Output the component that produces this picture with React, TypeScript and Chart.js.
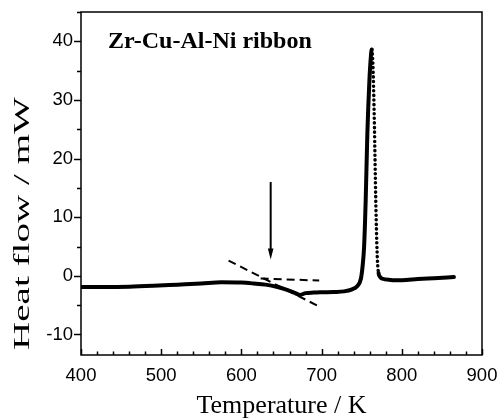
import React, { useEffect, useRef } from "react";
import { Chart, registerables } from "chart.js";

Chart.register(...registerables);

// ---- data ----
const temperatureK = [
  400, 430, 460, 490, 520, 550, 575, 600, 615, 630, 645, 655, 665, 673, 680, 690,
  700, 715, 728, 738, 744, 749, 751, 753, 755, 757, 759.5, 761.5, 762.5, 764, 765.5, 767,
  768, 769.5, 771, 773, 776, 786, 800, 820, 840, 865,
];
const heatFlowMW = [
  -1.9, -1.9, -1.85, -1.7, -1.5, -1.3, -1.1, -1.15, -1.3, -1.5, -1.9, -2.3, -2.8, -3.25, -2.95, -2.85,
  -2.8, -2.75, -2.65, -2.3, -1.8, -0.5, 1.5, 5, 13, 24, 33, 37.5, 38.6, 36, 28, 17,
  10, 3, 0.5, -0.2, -0.5, -0.7, -0.75, -0.55, -0.4, -0.2,
];
const tangentSlopeT = [584, 695];
const tangentSlopeH = [2.6, -5.1];
const tangentFlatT = [624, 697];
const tangentFlatH = [-0.45, -0.8];
const arrowT = 636.5;
const arrowFromH = 16;
const arrowToH = 2.8;

const xTickValues = [400, 500, 600, 700, 800, 900];
const yTickValues = [-10, 0, 10, 20, 30, 40];
const xMin = 400;
const xMax = 900;
const yMin = -13.5;
const yMax = 45;

const sampleLabel = "Zr-Cu-Al-Ni ribbon";
const xTitle = "Temperature / K";
const yTitle = "Heat flow / mW";

const toPoints = (xs: number[], ys: number[]) => xs.map((v, i) => ({ x: v, y: ys[i] }));

const isFallingPeak = (c: any) => c.p0.parsed.x >= 762 && c.p1.parsed.y < c.p0.parsed.y - 1;

const decorPlugin = {
  id: "decor",
  afterDraw(chart: any) {
    const { ctx, chartArea, scales } = chart;
    const { left, right, top, bottom } = chartArea;
    const xs = scales.x;
    const ys = scales.y;
    ctx.save();
    ctx.strokeStyle = "#000";
    ctx.fillStyle = "#000";
    ctx.lineWidth = 1.5;
    ctx.strokeRect(left, top, right - left, bottom - top);

    // y ticks (outward)
    for (let v = -10; v <= 45; v += 5) {
      const py = Math.round(ys.getPixelForValue(v)) + 0.5;
      const len = v % 10 === 0 ? 7 : 4;
      ctx.beginPath();
      ctx.moveTo(left - len, py);
      ctx.lineTo(left, py);
      ctx.stroke();
    }
    // x ticks (inward)
    for (let v = 400; v <= 900; v += 20) {
      const px = Math.round(xs.getPixelForValue(v)) + 0.5;
      const len = v % 100 === 0 ? 6 : 3.5;
      ctx.beginPath();
      ctx.moveTo(px, bottom);
      ctx.lineTo(px, bottom - len);
      ctx.stroke();
    }

    // arrow
    const ax = xs.getPixelForValue(arrowT);
    const ay1 = ys.getPixelForValue(arrowFromH);
    const ay2 = ys.getPixelForValue(arrowToH);
    ctx.lineWidth = 2;
    ctx.beginPath();
    ctx.moveTo(ax, ay1);
    ctx.lineTo(ax, ay2 - 9);
    ctx.stroke();
    ctx.beginPath();
    ctx.moveTo(ax, ay2);
    ctx.lineTo(ax - 2.8, ay2 - 11);
    ctx.lineTo(ax + 2.8, ay2 - 11);
    ctx.closePath();
    ctx.fill();

    // sample label
    ctx.font = 'bold 24px "Liberation Serif", "Times New Roman", serif';
    ctx.textAlign = "left";
    ctx.textBaseline = "alphabetic";
    ctx.fillText(sampleLabel, 108, 48);

    // x title
    ctx.font = '26px "Liberation Serif", "Times New Roman", serif';
    ctx.textAlign = "center";
    ctx.fillText(xTitle, (left + right) / 2, 413);

    // y title (stretched along its length as in the reference)
    ctx.font = '24px "Liberation Serif", "Times New Roman", serif';
    const w = ctx.measureText(yTitle).width;
    const sx = 253 / w;
    ctx.translate(29, 223.5);
    ctx.rotate(-Math.PI / 2);
    ctx.scale(sx, 1);
    ctx.textAlign = "center";
    ctx.fillText(yTitle, 0, 0);
    ctx.restore();
  },
};

export default function App() {
  const canvasRef = useRef<HTMLCanvasElement | null>(null);

  useEffect(() => {
    if (!canvasRef.current) return;
    const chart = new Chart(canvasRef.current, {
      type: "scatter",
      data: {
        datasets: [
          {
            data: toPoints(tangentSlopeT, tangentSlopeH),
            showLine: true,
            borderColor: "#000",
            borderWidth: 2,
            borderDash: [8, 5],
            pointRadius: 0,
          },
          {
            data: toPoints(tangentFlatT, tangentFlatH),
            showLine: true,
            borderColor: "#000",
            borderWidth: 2,
            borderDash: [8, 5],
            pointRadius: 0,
          },
          {
            data: toPoints(temperatureK, heatFlowMW),
            showLine: true,
            borderColor: "#000",
            borderWidth: 4,
            borderCapStyle: "round",
            borderJoinStyle: "round",
            cubicInterpolationMode: "monotone",
            pointRadius: 0,
            segment: {
              borderDash: (c: any) => (isFallingPeak(c) ? [0.1, 4.5] : undefined),
              borderWidth: (c: any) => (isFallingPeak(c) ? 3.5 : undefined),
            },
          } as any,
        ],
      },
      options: {
        animation: false,
        responsive: false,
        devicePixelRatio: 1,
        layout: { padding: { left: 0, top: 12, right: 17, bottom: 0 } },
        plugins: { legend: { display: false }, tooltip: { enabled: false } },
        scales: {
          x: {
            type: "linear",
            min: xMin,
            max: xMax,
            grid: { display: false },
            border: { display: false },
            afterFit: (s: any) => {
              s.height = 64;
              s.paddingLeft = 0;
              s.paddingRight = 0;
            },
            afterBuildTicks: (s: any) => {
              s.ticks = xTickValues.map((v) => ({ value: v }));
            },
            ticks: {
              color: "#000",
              padding: 2,
              maxRotation: 0,
              font: { family: '"Liberation Sans", Arial, sans-serif', size: 18.5 },
            },
          },
          y: {
            type: "linear",
            min: yMin,
            max: yMax,
            grid: { display: false },
            border: { display: false },
            afterFit: (s: any) => {
              s.width = 81;
              s.paddingTop = 0;
              s.paddingBottom = 0;
            },
            afterBuildTicks: (s: any) => {
              s.ticks = yTickValues.map((v) => ({ value: v }));
            },
            ticks: {
              color: "#000",
              padding: 0,
              font: { family: '"Liberation Sans", Arial, sans-serif', size: 18.5 },
            },
          },
        },
      },
      plugins: [decorPlugin],
    } as any);
    return () => chart.destroy();
  }, []);

  return (
    <div style={{ position: "fixed", left: 0, top: 0, width: 499, height: 419, background: "#fff" }}>
      <canvas ref={canvasRef} width={499} height={419} style={{ display: "block" }} />
    </div>
  );
}
